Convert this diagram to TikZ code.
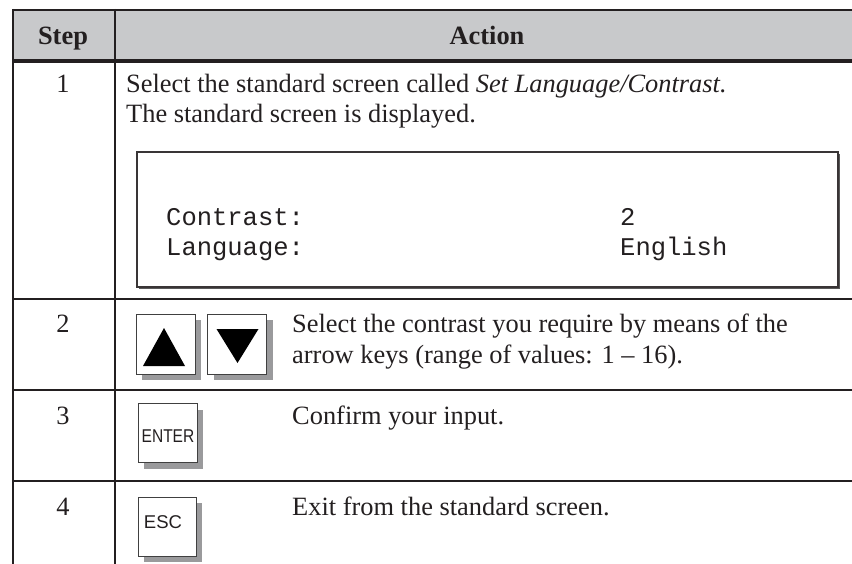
\documentclass[tikz,border=0pt]{standalone}
\usepackage{fontspec}
\setmainfont{Liberation Serif}
\newfontfamily\keyfont{Liberation Sans}
\newfontfamily\lcdfont{Liberation Mono}
\usetikzlibrary{shadows}
\definecolor{headgray}{HTML}{C8C9CB}
\definecolor{ruleink}{HTML}{231F20}
\definecolor{keyshade}{HTML}{9A9A9C}
\definecolor{keyline}{HTML}{404040}
\begin{document}
\begin{tikzpicture}[x=1pt,y=-1pt,
  rule/.style={line width=2.6pt, draw=ruleink},
  vrule/.style={line width=2pt, draw=ruleink},
  body/.style={font=\fontsize{26.4}{30}\selectfont, anchor=base west, inner sep=0pt, text=ruleink},
  bodyc/.style={font=\fontsize{26.4}{30}\selectfont, anchor=base, inner sep=0pt, text=ruleink},
  head/.style={font=\fontsize{26.4}{30}\selectfont\bfseries, anchor=base, inner sep=0pt, text=ruleink},
  lcd/.style={font=\lcdfont\fontsize{25.5}{30}\selectfont, anchor=base west, inner sep=0pt, text=ruleink},
  keybox/.style={draw=keyline, line width=0.9pt, fill=white, minimum width=59pt, minimum height=59pt, inner sep=0pt,
     drop shadow={shadow xshift=6pt, shadow yshift=-6pt, fill=keyshade, opacity=1}},
  keylabel/.style={font=\keyfont\fontsize{18.5}{20}\selectfont, anchor=base, inner sep=0pt, text=ruleink},
  screenbox/.style={draw=ruleink!90, line width=1.8pt, fill=white, inner sep=0pt,
     drop shadow={shadow xshift=1.8pt, shadow yshift=-1.8pt, fill=black!65, opacity=1}}
]
\useasboundingbox (0,0) rectangle (852,564);
% header background
\fill[headgray] (13,10) rectangle (852,61);
% table rules
\draw[line width=2pt, draw=ruleink] (12,10) -- (852,10);
\draw[line width=3.4pt, draw=ruleink] (13,61) -- (852,61);
\draw[rule] (13,299) -- (852,299);
\draw[rule] (13,390) -- (852,390);
\draw[rule] (13,481) -- (852,481);
\draw[vrule] (13,9) -- (13,564);
\draw[vrule] (115,9) -- (115,564);
% header
\node[head] (hstep) at (63,45) {Step};
\node[head] (haction) at (487,45) {Action};
% step numbers
\node[bodyc] (s1) at (63,93) {1};
\node[bodyc] (s2) at (63,333) {2};
\node[bodyc] (s3) at (63,424) {3};
\node[bodyc] (s4) at (63,515) {4};
% row 1
\node[body] (r1a) at (126,93) {Select the standard screen called \textit{Set Language/Contrast.}};
\node[body] (r1b) at (126,123) {The standard screen is displayed.};
\node[screenbox, minimum width=701pt, minimum height=135pt] (screen) at (487.5,219.5) {};
\node[lcd] (lc1) at (166,226) {Contrast:};
\node[lcd] (lc2) at (166,256) {Language:};
\node[lcd] (lv1) at (620,226) {2};
\node[lcd] (lv2) at (620,256) {English};
% row 2
\node[keybox, minimum height=60pt] (up) at (165.5,344) {};
\node[keybox, minimum height=60pt] (down) at (237,344) {};
\fill[black] (164,328) -- (185,366) -- (143,366) -- cycle;
\fill[black] (216.5,329) -- (258.5,329) -- (237.5,363) -- cycle;
\node[body] (r2a) at (292,333) {Select the contrast you require by means of the};
\node[body] (r2b) at (292,363) {arrow keys (range of values: 1 -- 16).};
% row 3
\node[keybox] (enter) at (167.5,433) {};
\node[keylabel] (enterlbl) at (168,442) {\scalebox{0.84}[1]{ENTER}};
\node[body] (r3) at (292,424) {Confirm your input.};
% row 4
\node[keybox, minimum width=58pt] (esc) at (167,526.5) {};
\node[keylabel] (esclbl) at (163,528) {ESC};
\node[body] (r4) at (292,515) {Exit from the standard screen.};
\end{tikzpicture}
\end{document}
